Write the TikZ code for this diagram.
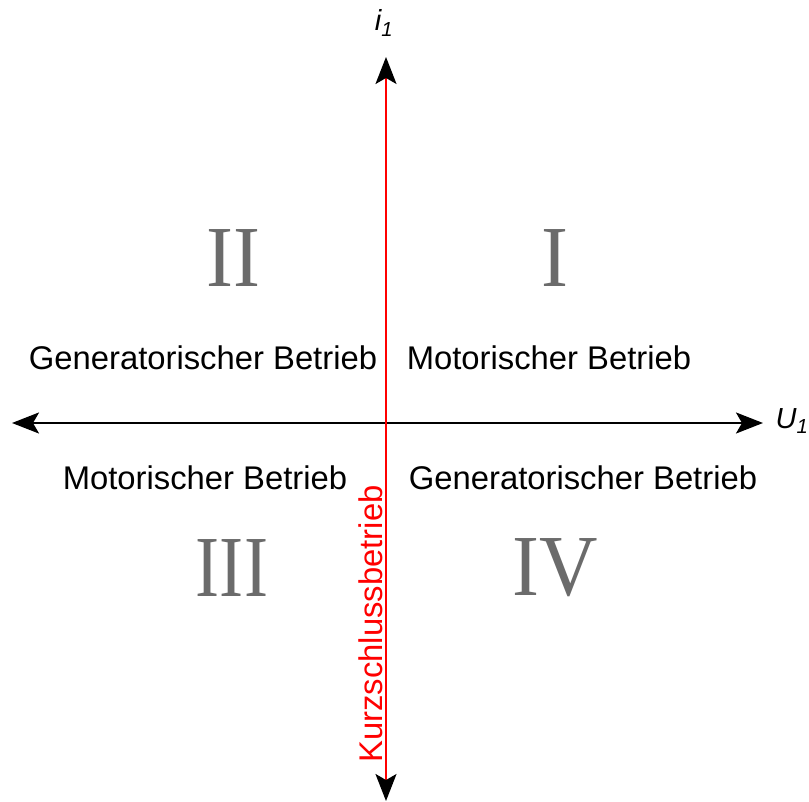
\documentclass[tikz,border=0pt]{standalone}
\usepackage{fontspec}
\setmainfont{Liberation Sans}
\newfontfamily\numfont{Liberation Serif}
\usetikzlibrary{arrows.meta}
\definecolor{numgray}{HTML}{6B6B6B}
\begin{document}
\begin{tikzpicture}[x=1pt,y=-1pt,
  lbl/.style={font=\fontsize{32.8}{36}\selectfont, inner sep=0pt},
  numeral/.style={font=\numfont\fontsize{87}{92}\selectfont, text=numgray, xscale=0.93, inner sep=0pt},
  axislbl/.style={font=\itshape\fontsize{29}{32}\selectfont, inner sep=0pt}]
\tikzset{myarr/.tip={Stealth[length=27pt,width=21pt,inset=6pt]}}
\useasboundingbox (0,0) rectangle (809,802);
\coordinate (top) at (386,57);
\coordinate (bot) at (386,801);
\coordinate (left) at (12,423);
\coordinate (right) at (763,423);
\draw[line width=2.3pt, {myarr}-{myarr}] (left) -- (right);
\draw[red, line width=2pt, {myarr[black]}-{myarr[black]}] (bot) -- (top);
\node[axislbl] (i1) at (384,23) {i\textsubscript{1}};
\node[axislbl] (u1) at (792,421) {U\textsubscript{1}};
\node[numeral] (nII) at (233,258) {II};
\node[numeral] (nI) at (555,258) {I};
\node[numeral, xscale=0.83/0.93] (nIII) at (232,568) {III};
\node[numeral] (nIV) at (555,568) {IV};
\node[lbl] (g1) at (203,358) {Generatorischer Betrieb};
\node[lbl] (m1) at (549,358) {Motorischer Betrieb};
\node[lbl] (m2) at (205,478) {Motorischer Betrieb};
\node[lbl] (g2) at (583,478) {Generatorischer Betrieb};
\node[lbl, red, rotate=90] (k) at (371,624) {Kurzschlussbetrieb};
\end{tikzpicture}
\end{document}
